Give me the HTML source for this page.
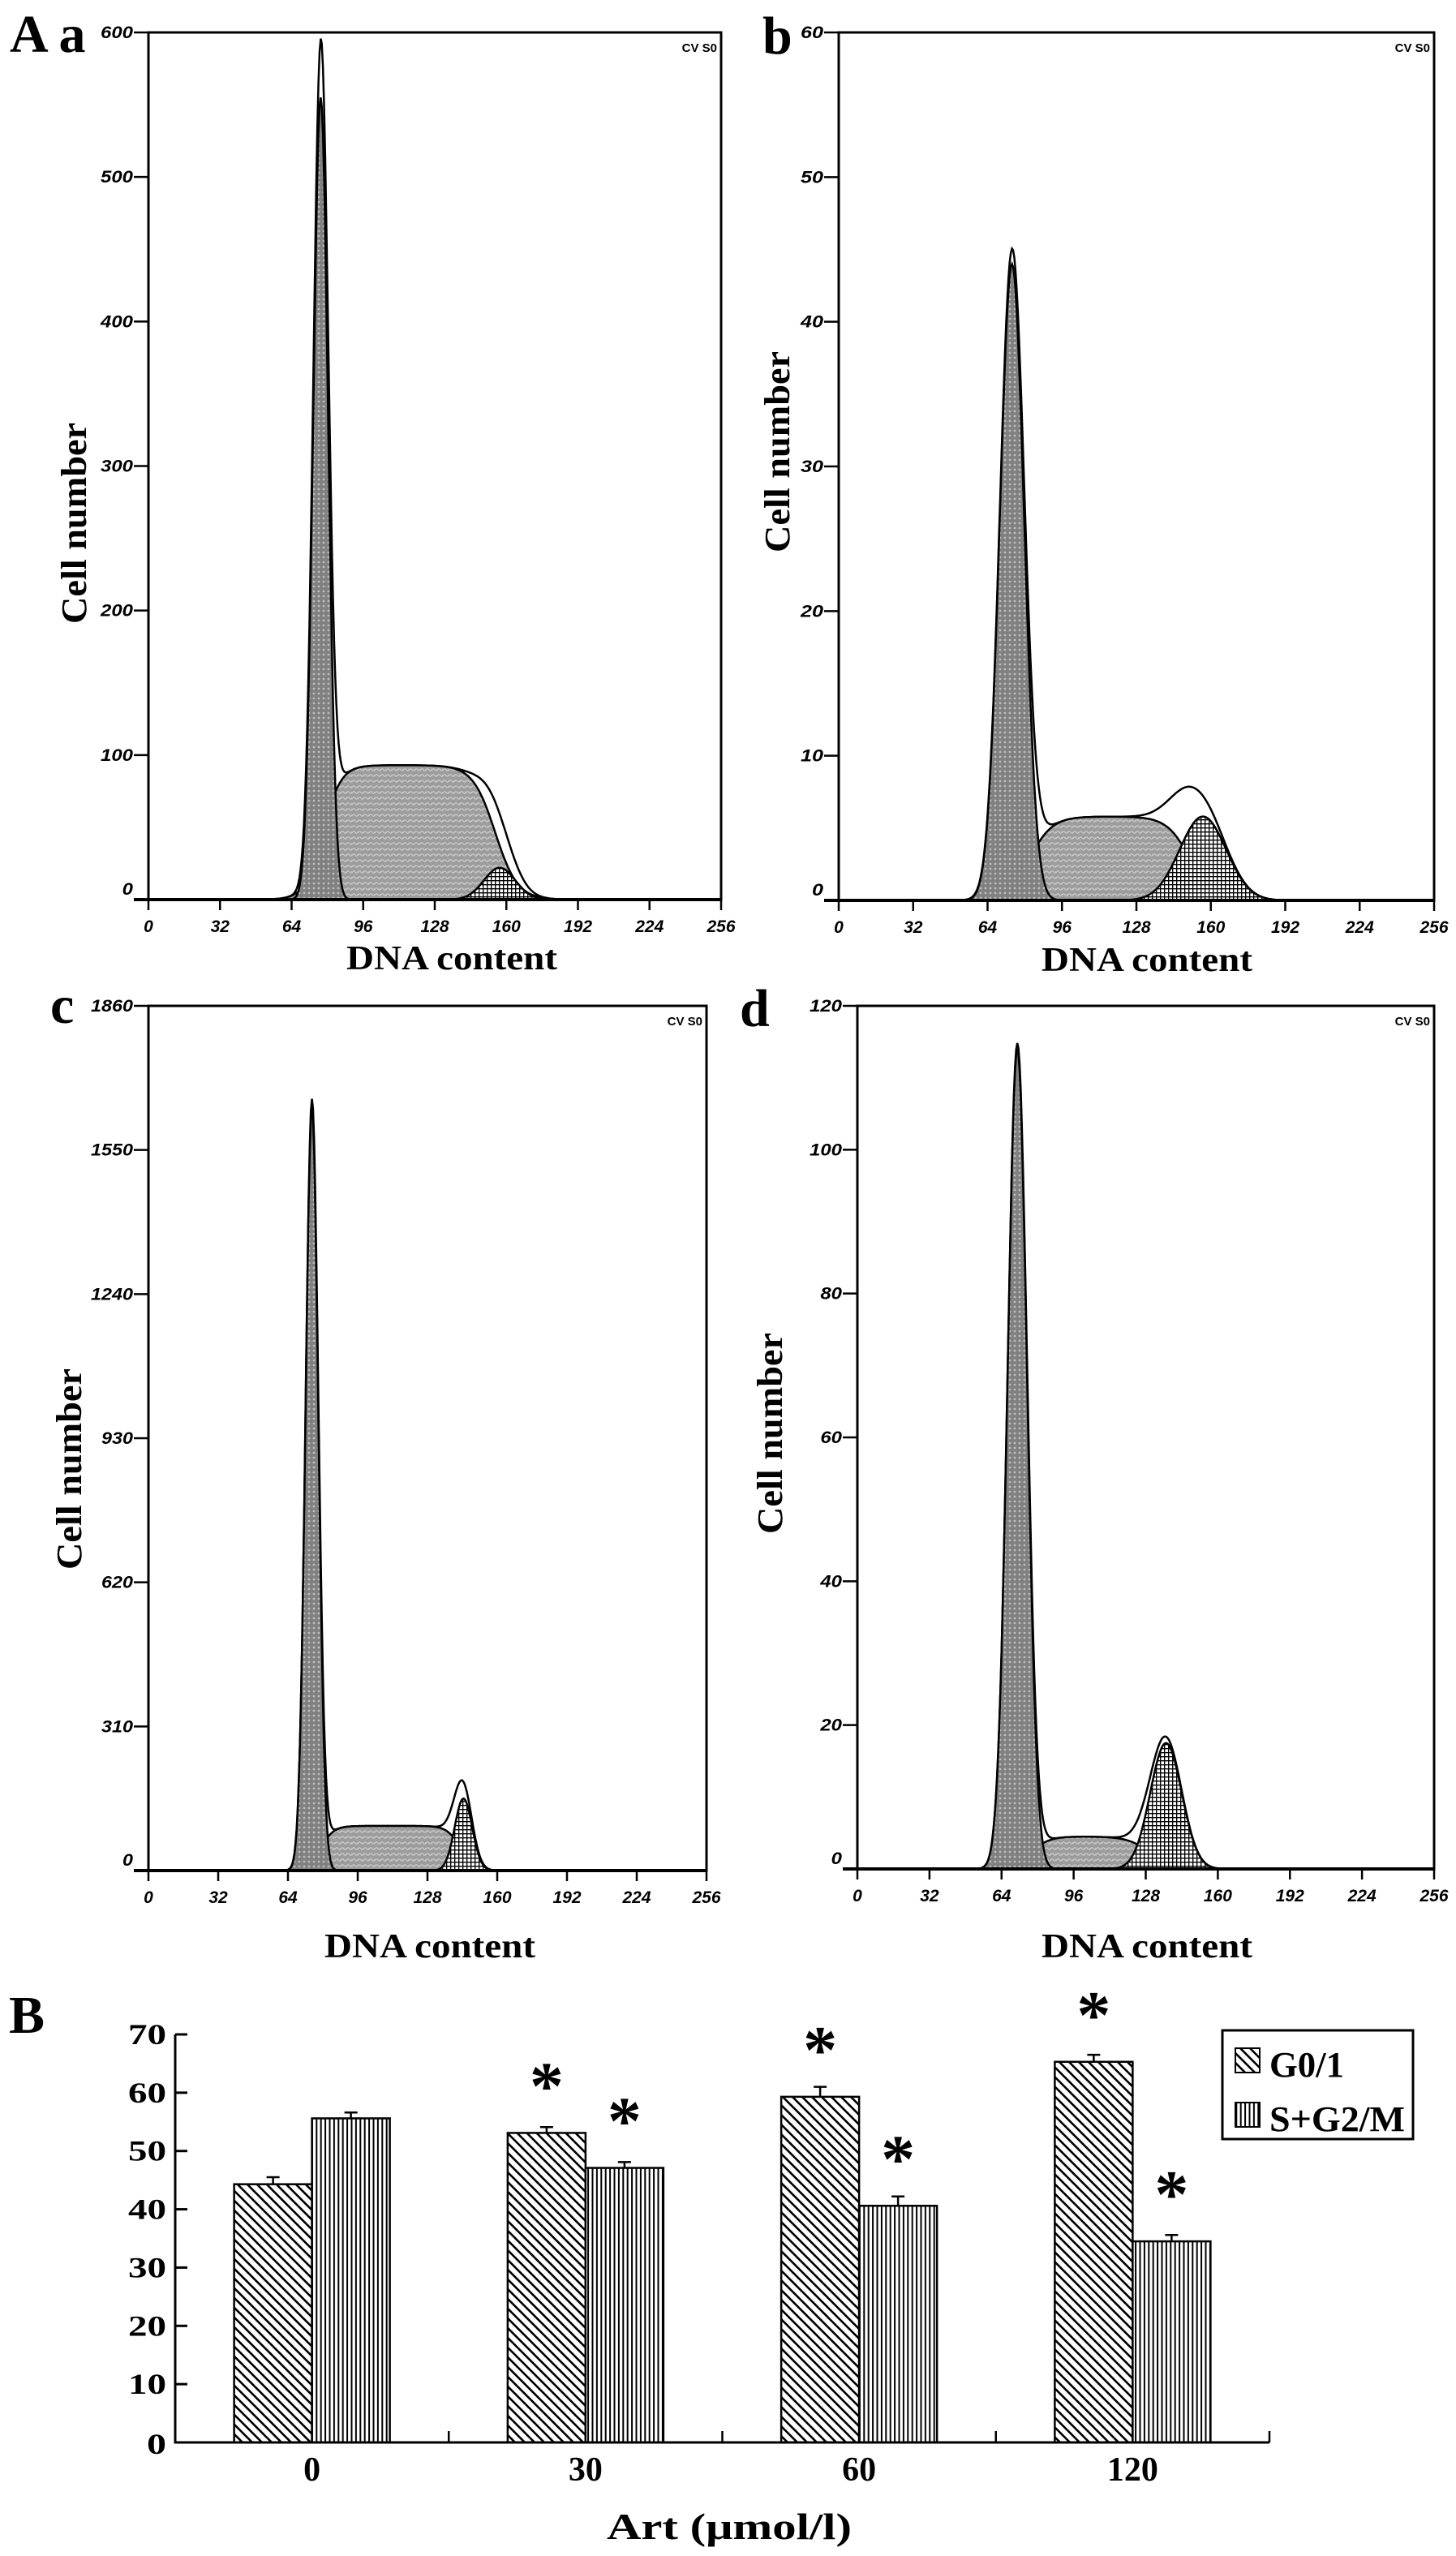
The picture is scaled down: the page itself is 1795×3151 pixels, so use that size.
<!DOCTYPE html>
<html><head><meta charset="utf-8">
<style>
html,body{margin:0;padding:0;background:#fff;}
svg{display:block;}
.serif{font-family:"Liberation Serif",serif;font-weight:bold;}
.sans{font-family:"Liberation Sans",sans-serif;font-weight:bold;font-style:italic;}
</style></head>
<body>
<svg id="fig" xmlns="http://www.w3.org/2000/svg" width="1795" height="3151" viewBox="0 0 1795 3151">
<defs>
  <pattern id="patG1" width="6" height="6" patternUnits="userSpaceOnUse">
    <rect width="6" height="6" fill="#808080"/><circle cx="3" cy="3" r="1.4" fill="#bdbdbd"/>
  </pattern>
  <pattern id="patS" width="7" height="7" patternUnits="userSpaceOnUse">
    <rect width="7" height="7" fill="#9c9c9c"/><path d="M0 5 Q2 1 4 4 T7 3" stroke="#cacaca" stroke-width="1.2" fill="none"/>
  </pattern>
  <pattern id="patG2" width="5" height="5" patternUnits="userSpaceOnUse">
    <rect width="5" height="5" fill="#fff"/><path d="M0 0.6H5M0.6 0V5" stroke="#000" stroke-width="1.5"/>
  </pattern>
  <pattern id="patDiag" width="12" height="12" patternUnits="userSpaceOnUse">
    <rect width="12" height="12" fill="#fff"/>
    <path d="M-3 -3L15 15M-3 9L3 15M9 -3L15 3" stroke="#000" stroke-width="2.6"/>
  </pattern>
  <pattern id="patVert" width="5.4" height="10" patternUnits="userSpaceOnUse">
    <rect width="5.4" height="10" fill="#fff"/><path d="M1.5 0V10" stroke="#000" stroke-width="2"/>
  </pattern>
</defs>
<g id="hists"></g>
<g id="barchart"></g>
</svg>
<script>
// ---------- Histogram data (DNA content model components) ----------
const xTicks = [0,32,64,96,128,160,192,224,256];
const yTicksA = [0,100,200,300,400,500,600];
const yTicksB = [0,10,20,30,40,50,60];
const yTicksC = [0,310,620,930,1240,1550,1860];
const yTicksD = [0,20,40,60,80,100,120];
// G0/G1 peak: [mean, sd, height]
const g1A = [77,3.3,555];
const g1B = [74.5,5.2,44];
const g1C = [75,2.9,1640];
const g1D = [71,4.3,114];
// S phase plateau: [startMid, startWidth, endMid, endWidth, height]
const sA = [78,4,155,5,93];
const sB = [82,5,151,5,5.8];
const sC = [79,3,143,3,96];
const sD = [77,4,130,5,4.5];
// G2/M peak: [mean, sd, height]
const g2A = [157,7,22];
const g2B = [156.6,10,5.8];
const g2C = [144.5,4,155];
const g2D = [137,7,17.5];

// ---------- Bar chart data ----------
const categories = ['0','30','60','120'];
const g01Values = [44.3,53.1,59.3,65.3];
const sg2mValues = [55.6,47.1,40.6,34.5];
const g01Err = [1.2,1.0,1.7,1.2];
const sg2mErr = [1.0,1.0,1.6,1.1];
const g01Sig = [false,true,true,true];
const sg2mSig = [false,true,true,true];
const barYTicks = [0,10,20,30,40,50,60,70];

const NS = 'http://www.w3.org/2000/svg';
function mk(tag, attrs, parent){
  const e = document.createElementNS(NS, tag);
  for (const k in attrs) e.setAttribute(k, attrs[k]);
  if (parent) parent.appendChild(e);
  return e;
}
function gauss(x,p){ return p[2]*Math.exp(-0.5*Math.pow((x-p[0])/p[1],2)); }
function splat(x,p){ return p[4]/(1+Math.exp(-(x-p[0])/p[1]))/(1+Math.exp((x-p[2])/p[3])); }

const panels = [
  {id:'a', L:183, R:889, T:40, B:1109, yt:yTicksA, g1:g1A, s:sA, g2:g2A, lab:'A a', labX:12, labY:64, cellX:91, cellY:645, dnaX:557, dnaY:1195, lblW:40},
  {id:'b', L:1034, R:1768, T:40, B:1110, yt:yTicksB, g1:g1B, s:sB, g2:g2B, lab:'b', labX:940, labY:66, cellX:958, cellY:557, dnaX:1414, dnaY:1197, lblW:28},
  {id:'c', L:183, R:871, T:1240, B:2306, yt:yTicksC, g1:g1C, s:sC, g2:g2C, lab:'c', labX:62, labY:1261, cellX:85, cellY:1811, dnaX:530, dnaY:2413, lblW:52},
  {id:'d', L:1057, R:1768, T:1240, B:2304, yt:yTicksD, g1:g1D, s:sD, g2:g2D, lab:'d', labX:912, labY:1265, cellX:949, cellY:1767, dnaX:1414, dnaY:2413, lblW:40}
];

const hroot = document.getElementById('hists');
panels.forEach(P => {
  const g = mk('g', {}, hroot);
  
  
  const ymax = P.yt[P.yt.length-1];
  const sx = v => P.L + (v/256)*(P.R-P.L);
  const sy = v => P.B - (v/ymax)*(P.B-P.T);
  const xs = [];
  for (let x=30; x<=220; x+=0.5) xs.push(x);
  function path(fn){
    let d = 'M' + sx(xs[0]) + ' ' + P.B;
    xs.forEach(x => { d += 'L' + sx(x).toFixed(1) + ' ' + Math.max(P.T, sy(fn(x))).toFixed(1); });
    d += 'L' + sx(xs[xs.length-1]) + ' ' + P.B + 'Z';
    return d;
  }
  const clipId = 'clip' + P.id;
  const cp = mk('clipPath', {id: clipId}, g);
  mk('rect', {x:P.L, y:P.T, width:P.R-P.L, height:P.B-P.T}, cp);
  const cg = mk('g', {'clip-path':'url(#'+clipId+')'}, g);
  const total = mk('path', {d: path(x => gauss(x,P.g1)+splat(x,P.s)+gauss(x,P.g2)), fill:'#fff', stroke:'#000', 'stroke-width':2.5}, cg);
  
  
  const sp = mk('path', {d: path(x => splat(x,P.s)), fill:'url(#patS)', stroke:'#000', 'stroke-width':2.5}, cg);
  
  
  const g1p = mk('path', {d: path(x => gauss(x,P.g1)), fill:'url(#patG1)', stroke:'#000', 'stroke-width':2.5}, cg);
  
  
  const g2p = mk('path', {d: path(x => gauss(x,P.g2)), fill:'url(#patG2)', stroke:'#000', 'stroke-width':2.5}, cg);
  
  

  const frame = mk('rect', {x:P.L, y:P.T, width:P.R-P.L, height:P.B-P.T, fill:'none', stroke:'#000', 'stroke-width':3}, g);
  
  
  mk('line', {x1:P.L-18, y1:P.B, x2:P.R, y2:P.B, stroke:'#000', 'stroke-width':4}, g);

  P.yt.forEach(v => {
    mk('line', {x1:P.L-18, y1:sy(v), x2:P.L, y2:sy(v), stroke:'#000', 'stroke-width':2.5}, g);
    const t = mk('text', {x:P.L-19, y:sy(v)+ (v===0 ? -6 : 7), 'text-anchor':'end', 'font-size':21, class:'sans', textLength: String(v).length*P.lblW/ (String(ymax).length), lengthAdjust:'spacingAndGlyphs'}, g);
    t.textContent = v;
    
    
  });
  xTicks.forEach(v => {
    mk('line', {x1:sx(v), y1:P.B, x2:sx(v), y2:P.B+13, stroke:'#000', 'stroke-width':2.5}, g);
    const t = mk('text', {x:sx(v), y:P.B+40, 'text-anchor':'middle', 'font-size':21, class:'sans'}, g);
    t.textContent = v;
    
    
  });
  const cv = mk('text', {x:P.R-5, y:P.T+24, 'text-anchor':'end', 'font-size':15, style:'font-family:Liberation Sans,sans-serif;font-weight:bold'}, g);
  cv.textContent = 'CV S0';
  
  

  const lab = mk('text', {x:P.labX, y:P.labY, 'font-size':66, class:'serif'}, g);
  lab.textContent = P.lab;
  
  

  const yl = mk('text', {x:0, y:0, 'text-anchor':'middle', 'font-size':44, class:'serif', transform:'translate('+(P.cellX+15)+','+P.cellY+') rotate(-90)', textLength:248, lengthAdjust:'spacingAndGlyphs'}, g);
  yl.textContent = 'Cell number';
  
  

  const xl = mk('text', {x:P.dnaX, y:P.dnaY, 'text-anchor':'middle', 'font-size':42, class:'serif', textLength:260, lengthAdjust:'spacingAndGlyphs'}, g);
  xl.textContent = 'DNA content';
  
  
});

// ---------- Bar chart ----------
const broot = document.getElementById('barchart');
const bL = 216, bR = 1565, bY0 = 3011, bY70 = 2508;
const by = v => bY0 - (v/70)*(bY0-bY70);
const band = (bR - bL)/categories.length;
const barW = 96;

const bl = mk('text', {x:11, y:2506, 'font-size':66, class:'serif'}, broot);
bl.textContent = 'B';



barYTicks.forEach(v => {
  mk('line', {x1:bL, y1:by(v), x2:bL+15, y2:by(v), stroke:'#000', 'stroke-width':3}, broot);
  const t = mk('text', {x:205, y:by(v)+ (v===0 ? 14 : 12), 'text-anchor':'end', 'font-size':36, class:'serif', textLength: v===0 ? 24 : 47, lengthAdjust:'spacingAndGlyphs'}, broot);
  t.textContent = v;
  
  
});

categories.forEach((c, i) => {
  const cx = bL + band*(i+0.5);
  const items = [
    {v:g01Values[i], e:g01Err[i], s:g01Sig[i], pat:'patDiag', x:cx-barW, nm:'bar-g01-'+c},
    {v:sg2mValues[i], e:sg2mErr[i], s:sg2mSig[i], pat:'patVert', x:cx, nm:'bar-sg2m-'+c}
  ];
  items.forEach(it => {
    const r = mk('rect', {x:it.x, y:by(it.v), width:barW, height:bY0-by(it.v), fill:'url(#'+it.pat+')', stroke:'#000', 'stroke-width':2.5}, broot);
    
    
    const mx = it.x + barW/2;
    mk('line', {x1:mx, y1:by(it.v), x2:mx, y2:by(it.v+it.e), stroke:'#000', 'stroke-width':2.5}, broot);
    mk('line', {x1:mx-8, y1:by(it.v+it.e), x2:mx+8, y2:by(it.v+it.e), stroke:'#000', 'stroke-width':2.5}, broot);
    if (it.s) {
      const a = mk('text', {x:mx, y:by(it.v)-30, 'text-anchor':'middle', 'font-size':84, class:'serif'}, broot);
      a.textContent = '*';
      
      
    }
  });
  if (i > 0) mk('line', {x1:bL+band*i, y1:bY0, x2:bL+band*i, y2:bY0-14, stroke:'#000', 'stroke-width':2.5}, broot);
  const t = mk('text', {x:cx, y:3058, 'text-anchor':'middle', 'font-size':42, class:'serif'}, broot);
  t.textContent = c;
  
  
});
mk('line', {x1:bR, y1:bY0, x2:bR, y2:bY0-14, stroke:'#000', 'stroke-width':2.5}, broot);
const ax = mk('path', {d:'M'+bL+' '+bY70+'V'+bY0+'H'+bR, fill:'none', stroke:'#000', 'stroke-width':3}, broot);



const xt = mk('text', {x:899, y:3130, 'text-anchor':'middle', 'font-size':46, class:'serif', textLength:302, lengthAdjust:'spacingAndGlyphs'}, broot);
xt.textContent = 'Art (μmol/l)';



// legend
const lg = mk('g', {}, broot);


mk('rect', {x:1507, y:2503, width:235, height:134, fill:'#fff', stroke:'#000', 'stroke-width':3}, lg);
const sw1 = mk('rect', {x:1523, y:2525, width:30, height:30, fill:'url(#patDiag)', stroke:'#000', 'stroke-width':2}, lg);


const lt1 = mk('text', {x:1565, y:2560, 'font-size':44, class:'serif', textLength:92, lengthAdjust:'spacingAndGlyphs'}, lg);
lt1.textContent = 'G0/1';


const sw2 = mk('rect', {x:1523, y:2592, width:30, height:30, fill:'url(#patVert)', stroke:'#000', 'stroke-width':2}, lg);


const lt2 = mk('text', {x:1565, y:2627, 'font-size':44, class:'serif', textLength:167, lengthAdjust:'spacingAndGlyphs'}, lg);
lt2.textContent = 'S+G2/M';


</script>
</body></html>
